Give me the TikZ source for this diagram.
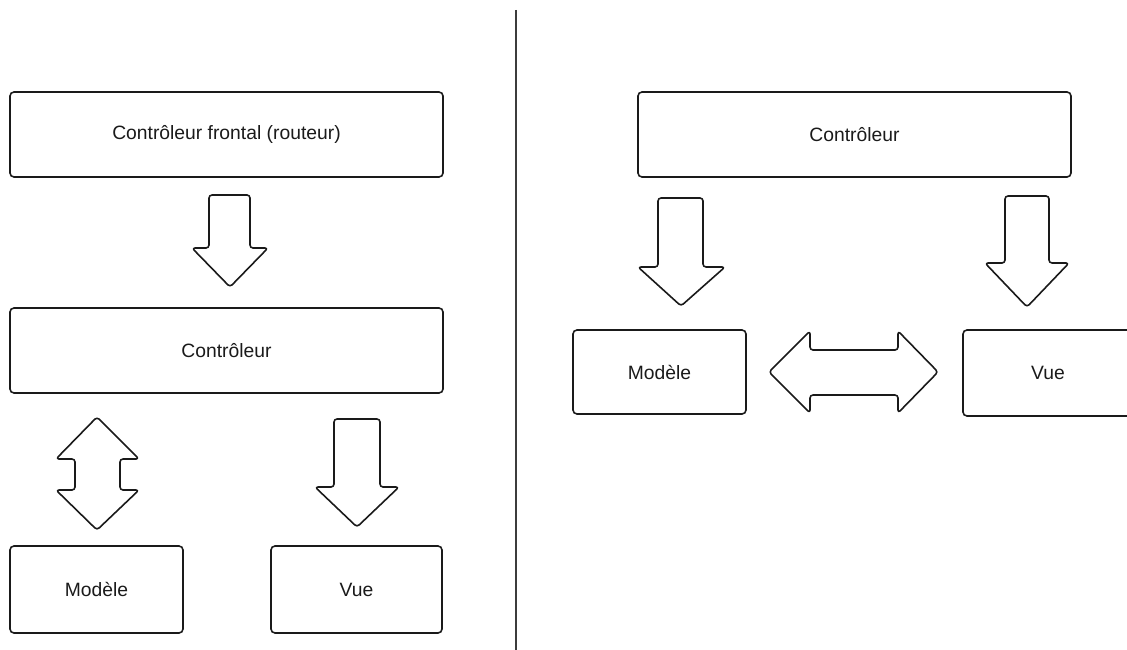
\documentclass[tikz,border=0pt]{standalone}
\usepackage{fontspec}
\setmainfont{Liberation Sans}
\definecolor{ink}{HTML}{1A1A1A}
\begin{document}
\begin{tikzpicture}[x=1pt,y=-1pt,
  box/.style={draw=ink,line width=1.6pt,rounded corners=4pt,inner sep=0pt,
    font=\fontsize{19.3}{23}\selectfont,text=ink},
  fatarrow/.style={draw=ink,line width=1.6pt,rounded corners=3pt,line join=round,fill=white},
  divider/.style={draw=ink!85,line width=2pt}]
\useasboundingbox (0,0) rectangle (1127,650);
\clip (0,0) rectangle (1127,650);
% left side
\node[box,minimum width=433pt,minimum height=85pt] (front) at (226.5,134.5) {Contrôleur frontal (routeur)};
\node[box,minimum width=433pt,minimum height=85pt] (ctrlL) at (226.5,350.5) {Contrôleur};
\node[box,minimum width=173pt,minimum height=87pt] (modL) at (96.5,589.5) {Modèle};
\node[box,minimum width=171pt,minimum height=87pt] (vueL) at (356.5,589.5) {Vue};
\draw[fatarrow] (209,195) -- (250,195) -- (250,248) -- (268,248) -- (230,287) -- (192,248) -- (209,248) -- cycle;
\draw[fatarrow] (97,417) -- (139,459) -- (120,459) -- (120,490) -- (139,490) -- (97,530) -- (56,490) -- (75,490) -- (75,459) -- (56,459) -- cycle;
\draw[fatarrow] (334,419) -- (380,419) -- (380,487) -- (399,487) -- (357,527) -- (315,487) -- (334,487) -- cycle;
% divider
\coordinate (divTop) at (516,10);
\coordinate (divBot) at (516,650);
\draw[divider] (divTop) -- (divBot);
% right side
\node[box,minimum width=433pt,minimum height=85pt] (ctrlR) at (854.5,134.5) {Contrôleur};
\node[box,minimum width=173pt,minimum height=84pt] (modR) at (659.5,372) {Modèle};
\node[box,minimum width=170pt,minimum height=86pt] (vueR) at (1048,373) {Vue};
\draw[fatarrow] (658,198) -- (703,198) -- (703,267) -- (725,267) -- (681,306) -- (638,267) -- (658,267) -- cycle;
\draw[fatarrow] (1005,196) -- (1049,196) -- (1049,263) -- (1069,263) -- (1027,307) -- (985,263) -- (1005,263) -- cycle;
\draw[fatarrow] (769,372) -- (810,331) -- (810,350) -- (898,350) -- (898,331) -- (938,372) -- (898,413) -- (898,395) -- (810,395) -- (810,413) -- cycle;
\end{tikzpicture}
\end{document}
